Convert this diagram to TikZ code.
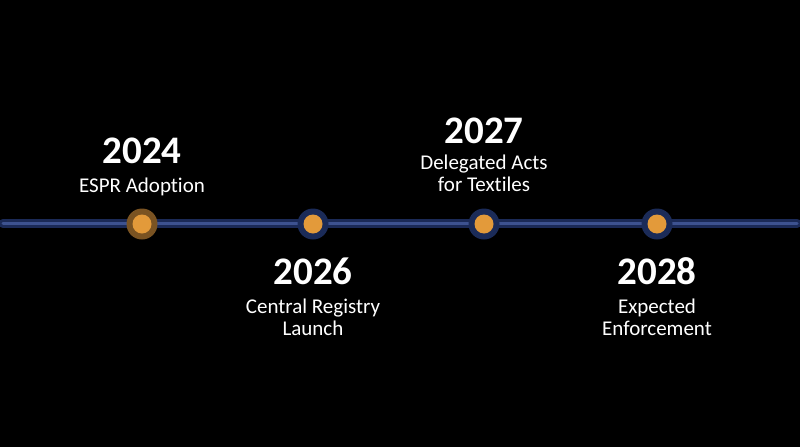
\documentclass[tikz,border=0pt]{standalone}
\usepackage{fontspec}
\setmainfont{Carlito}[RawFeature=-liga]
\definecolor{bg}{HTML}{000000}
\definecolor{lineedge}{HTML}{1B2A57}
\definecolor{linemid}{HTML}{3D5290}
\definecolor{dotfill}{HTML}{E39A3A}
\definecolor{ringnavy}{HTML}{1B2B58}
\definecolor{ringbrown}{HTML}{7A5322}
\tikzset{
  year/.style={text=white, font=\fontsize{39}{42}\selectfont\bfseries, anchor=base, inner sep=0pt},
  desc/.style={text=white, font=\fontsize{21}{22}\selectfont, anchor=base, inner sep=0pt, align=center},
  ring/.style={circle, fill=ringnavy, minimum size=31pt, inner sep=0pt},
  firstring/.style={circle, fill=ringbrown, minimum size=31pt, inner sep=0pt},
  dot/.style={circle, fill=dotfill, minimum size=19pt, inner sep=0pt},
}
\begin{document}
\begin{tikzpicture}[x=1pt,y=-1pt]
\fill[bg] (0,0) rectangle (800,447);
\useasboundingbox (0,0) rectangle (800,447);
\coordinate (L) at (3,223.5);
\coordinate (R) at (797,223.5);
\draw[lineedge, line width=9.5pt, line cap=round] (L) -- (R);
\draw[linemid, line width=3pt, line cap=round] (L) -- (R);
% markers
\node[firstring] (r1) at (142,224) {};
\node[dot] (d1) at (r1) {};
\node[ring] (r2) at (313,224) {};
\node[dot] (d2) at (r2) {};
\node[ring] (r3) at (484,224) {};
\node[dot] (d3) at (r3) {};
\node[ring] (r4) at (657,224) {};
\node[dot] (d4) at (r4) {};
% labels
\node[year] (y1) at (142,163.5) {2024};
\node[desc] (t1) at (142,192) {ESPR Adoption};
\node[year] (y3) at (484,143) {2027};
\node[desc] (t3a) at (484,169.5) {Delegated Acts};
\node[desc] (t3b) at (484,191.5) {for Textiles};
\node[year] (y2) at (313,284) {2026};
\node[desc] (t2a) at (313,313) {Central Registry};
\node[desc] (t2b) at (313,335) {Launch};
\node[year] (y4) at (657,284) {2028};
\node[desc] (t4a) at (657,313) {Expected};
\node[desc] (t4b) at (657,335) {Enforcement};
\end{tikzpicture}
\end{document}
